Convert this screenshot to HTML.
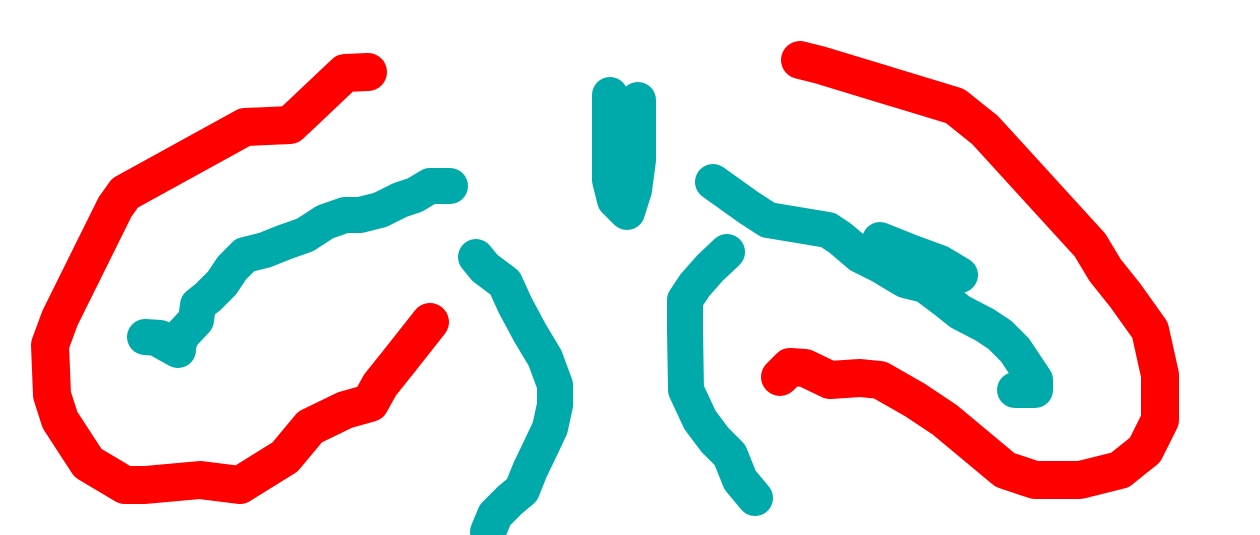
<!DOCTYPE html>
<html>
<head>
<meta charset="utf-8">
<style>
  html,body{margin:0;padding:0;background:#fff;}
  #wrap{width:1260px;height:535px;overflow:hidden;}
</style>
</head>
<body>
<div id="wrap">
<svg id="svg" width="1260" height="535" viewBox="0 0 1260 535" xmlns="http://www.w3.org/2000/svg"></svg>
</div>
<script>
const redLeft = [[368,72],[345,73],[290,125],[245,127],[125,193],[115,207],[60,318],[50,345],[52,395],[60,420],[88,463],[125,485],[145,485],[200,480],[240,485],[285,457],[310,427],[345,410],[370,403],[380,385],[400,360],[430,322]];
const redRight = [[800,60],[820,65],[955,106],[985,130],[1090,245],[1105,270],[1125,295],[1150,330],[1160,375],[1160,420],[1145,450],[1120,470],[1080,480],[1035,480],[1005,470],[945,420],[915,400],[880,380],[860,378],[830,380],[805,368],[790,367],[780,377]];
const tealLeft = [[450,186],[430,186],[415,195],[400,200],[380,210],[360,215],[345,215],[325,222],[305,235],[285,242],[265,250],[245,255],[232,268],[222,283],[208,297],[198,305],[196,320],[182,335],[178,345],[160,338],[145,337]];
const tealMidLeft = [[476,257],[485,268],[505,283],[515,305],[530,333],[545,358],[555,385],[555,405],[550,428],[542,445],[530,470],[522,490],[510,500],[495,515],[488,532]];
const tealCenter = [[610,95],[610,180],[615,200],[627,212],[634,190],[638,160],[638,100]];
const tealRight = [[713,182],[748,207],[768,220],[828,230],[840,238],[860,255],[880,265],[905,280],[925,285],[945,300],[960,312],[985,325],[1000,335],[1015,350],[1025,365],[1035,380],[1035,390],[1015,390]];
const tealRightBulge = [[880,240],[910,252],[940,263],[960,275]];
const tealMidRight = [[727,252],[710,268],[695,285],[685,300],[685,330],[686,390],[700,420],[715,440],[730,455],[740,480],[755,498]];
const tealLeftBlob = [[160,340],[178,350]];

const RED = '#ff0000', TEAL = '#00aaaa';
const svg = document.getElementById('svg');
function stroke(pts, color, w, name){
  const p = document.createElementNS('http://www.w3.org/2000/svg','polyline');
  p.setAttribute('points', pts.map(q=>q.join(',')).join(' '));
  p.setAttribute('fill','none');
  p.setAttribute('stroke',color);
  p.setAttribute('stroke-width',w);
  p.setAttribute('stroke-linecap','round');
  p.setAttribute('stroke-linejoin','round');
  
  
  svg.appendChild(p);
}
stroke(redLeft, RED, 38, 'red-stroke-left');
stroke(redRight, RED, 38, 'red-stroke-right');
stroke(tealLeft, TEAL, 36, 'teal-stroke-left');
stroke(tealLeftBlob, TEAL, 36, 'teal-stroke-left-blob');
stroke(tealMidLeft, TEAL, 36, 'teal-stroke-mid-left');
stroke(tealCenter, TEAL, 36, 'teal-stroke-center');
stroke(tealRight, TEAL, 36, 'teal-stroke-right');
stroke(tealRightBulge, TEAL, 36, 'teal-stroke-right-bulge');
stroke(tealMidRight, TEAL, 36, 'teal-stroke-mid-right');
</script>
</body>
</html>
